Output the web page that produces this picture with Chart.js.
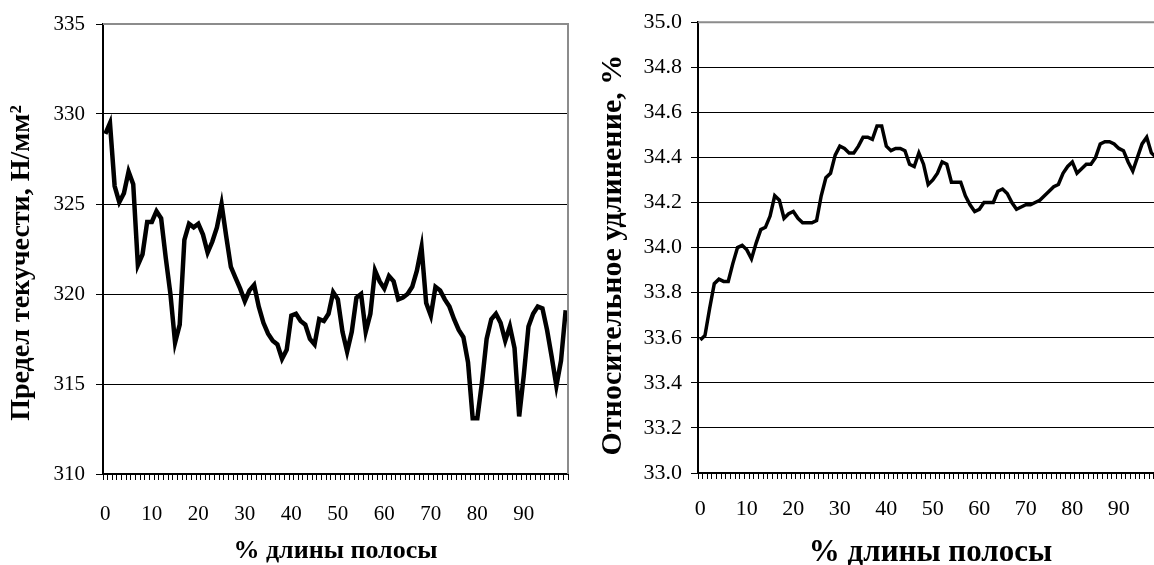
<!DOCTYPE html>
<html>
<head>
<meta charset="utf-8">
<script src="https://cdn.jsdelivr.net/npm/chart.js@4.4.0/dist/chart.umd.min.js"></script>
<style>
  html, body { margin: 0; padding: 0; width: 1154px; height: 565px; overflow: hidden; background: #fff; }
  #c1 { position: absolute; left: 0; top: 0; }
  #c2 { position: absolute; left: 580px; top: 0; }
</style>
</head>
<body>
<canvas id="c1" width="580" height="565"></canvas>
<canvas id="c2" width="600" height="565"></canvas>
<script>
// ---- data ----
const categories = [
  0,1,2,3,4,5,6,7,8,9,10,11,12,13,14,15,16,17,18,19,
  20,21,22,23,24,25,26,27,28,29,30,31,32,33,34,35,36,37,38,39,
  40,41,42,43,44,45,46,47,48,49,50,51,52,53,54,55,56,57,58,59,
  60,61,62,63,64,65,66,67,68,69,70,71,72,73,74,75,76,77,78,79,
  80,81,82,83,84,85,86,87,88,89,90,91,92,93,94,95,96,97,98,99
];
const xTickLabels = ['0','10','20','30','40','50','60','70','80','90'];

const yieldStrength = [
  328.9,329.5,326.0,325.1,325.6,326.8,326.1,321.6,322.2,324.0,
  324.0,324.6,324.2,322.0,320.0,317.3,318.3,323.0,323.9,323.7,
  323.9,323.3,322.3,322.9,323.7,325.0,323.2,321.5,320.9,320.3,
  319.6,320.2,320.5,319.3,318.4,317.8,317.4,317.2,316.4,316.9,
  318.8,318.9,318.5,318.3,317.5,317.2,318.6,318.5,318.9,320.1,
  319.7,317.9,316.8,317.9,319.8,320.0,317.9,318.9,321.3,320.7,
  320.3,321.0,320.7,319.7,319.8,320.0,320.4,321.3,322.6,319.5,
  318.8,320.4,320.2,319.7,319.3,318.6,318.0,317.6,316.2,313.1,
  313.1,315.1,317.5,318.6,318.9,318.4,317.4,318.2,317.0,313.2,
  315.5,318.2,318.9,319.3,319.2,318.0,316.5,314.9,316.3,319.1
];
const elongation = [
  33.59,33.61,33.73,33.84,33.86,33.85,33.85,33.93,34.00,34.01,
  33.99,33.95,34.02,34.08,34.09,34.14,34.23,34.21,34.13,34.15,
  34.16,34.13,34.11,34.11,34.11,34.12,34.23,34.31,34.33,34.41,
  34.45,34.44,34.42,34.42,34.45,34.49,34.49,34.48,34.54,34.54,
  34.45,34.43,34.44,34.44,34.43,34.37,34.36,34.42,34.37,34.28,
  34.30,34.33,34.38,34.37,34.29,34.29,34.29,34.23,34.19,34.16,
  34.17,34.20,34.20,34.20,34.25,34.26,34.24,34.20,34.17,34.18,
  34.19,34.19,34.20,34.21,34.23,34.25,34.27,34.28,34.33,34.36,
  34.38,34.33,34.35,34.37,34.37,34.40,34.46,34.47,34.47,34.46,
  34.44,34.43,34.38,34.34,34.40,34.46,34.49,34.42,34.40,34.41
];
const xTitle = '% длины полосы';
const yTitleLeft = 'Предел текучести, Н/мм²\u00A0\u00A0\u00A0\u00A0';
const yTitleRight = 'Относительное удлинение, %\u00A0\u00A0';

// ---- styling helpers ----
const FONT = "'Liberation Serif', 'Times New Roman', serif";

const frameplugin = {
  id: 'frame',
  afterDatasetsDraw(chart) {
    const a = chart.chartArea, ctx = chart.ctx;
    ctx.save();
    ctx.strokeStyle = '#8c8c8c';
    ctx.lineWidth = 2;
    ctx.beginPath();
    ctx.moveTo(a.left, a.top);
    ctx.lineTo(a.right, a.top);
    ctx.lineTo(a.right, a.bottom);
    ctx.stroke();
    ctx.restore();
  }
};

function makeChart(id, data, cfg) {
  return new Chart(document.getElementById(id), {
    type: 'line',
    data: {
      labels: categories,
      datasets: [{
        data: data,
        borderColor: '#000',
        borderWidth: cfg.lineWidth,
        pointRadius: 0,
        tension: 0,
        fill: false
      }]
    },
    plugins: [frameplugin],
    options: {
      responsive: false,
      animation: false,
      devicePixelRatio: 1,
      layout: { padding: { top: cfg.top, right: cfg.right, left: 0, bottom: 0 } },
      plugins: { legend: { display: false }, tooltip: { enabled: false } },
      scales: {
        x: {
          type: 'category',
          offset: true,
          grid: {
            display: true, offset: true, drawOnChartArea: false,
            drawTicks: true, tickLength: 6, tickColor: '#000', lineWidth: 1
          },
          border: { display: true, color: '#000', width: 2 },
          ticks: {
            autoSkip: false, maxRotation: 0, minRotation: 0,
            color: '#000', padding: cfg.xTickPad,
            font: { family: FONT, size: cfg.xTickSize },
            callback: function(v, i) {
              const lab = String(categories[i]);
              return xTickLabels.includes(lab) ? lab : '';
            }
          },
          title: {
            display: true, text: xTitle, color: '#000',
            font: { family: FONT, size: cfg.xTitleSize, weight: 'bold', lineHeight: 0.8 },
            padding: { top: 0, bottom: cfg.xTitlePad }
          },
          afterFit: s => { s.height = cfg.xHeight; s.paddingLeft = 0; s.paddingRight = 0; }
        },
        y: {
          min: cfg.min, max: cfg.max,
          grid: {
            color: ctx => (ctx.tick && ctx.tick.value === cfg.max) ? 'rgba(0,0,0,0)' : '#000',
            lineWidth: 1, tickLength: 7, tickColor: '#000', drawTicks: true
          },
          border: { display: true, color: '#000', width: 2 },
          ticks: {
            stepSize: cfg.step, color: '#000', padding: cfg.yTickPad,
            font: { family: FONT, size: cfg.tickSize },
            callback: v => cfg.decimals ? Number(v).toFixed(1) : String(Math.round(v))
          },
          title: {
            display: true, text: cfg.yTitle, color: '#000',
            font: { family: FONT, size: cfg.yTitleSize, weight: 'bold', lineHeight: 1 },
            padding: { top: cfg.yTitlePad, bottom: 0 }
          },
          afterFit: s => { s.width = cfg.yWidth; }
        }
      }
    }
  });
}

makeChart('c1', yieldStrength, {
  lineWidth: 4.5, top: 24, right: 12, min: 310, max: 335, step: 5, decimals: false,
  tickSize: 21, xTickSize: 21, xTickPad: 22, yTickPad: 11, xTitleSize: 26, xTitlePad: 3,
  yTitle: yTitleLeft, yTitleSize: 28, yTitlePad: 8, xHeight: 91, yWidth: 103
});
makeChart('c2', elongation, {
  lineWidth: 3.5, top: 20, right: 17, min: 33.0, max: 35.0, step: 0.2, decimals: true,
  tickSize: 22, xTickSize: 22, xTickPad: 17, yTickPad: 9, xTitleSize: 31, xTitlePad: 0,
  yTitle: yTitleRight, yTitleSize: 30, yTitlePad: 18, xHeight: 92, yWidth: 118
});
</script>
</body>
</html>
